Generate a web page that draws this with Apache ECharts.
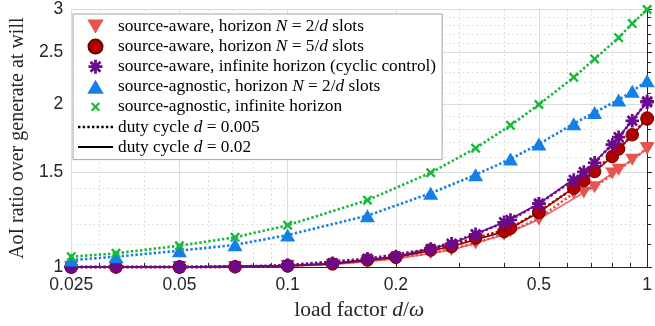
<!DOCTYPE html>
<html>
<head>
<meta charset="utf-8">
<script src="https://cdn.jsdelivr.net/npm/echarts@6/dist/echarts.min.js"></script>
<style>
  html, body { margin: 0; padding: 0; background: #fff; }
  #chart { width: 655px; height: 326px; }
</style>
</head>
<body>
<div id="chart"></div>
<script>
  // load factor d/omega, duty cycle d = 0.005 and d = 0.02
  const loadA = [0.025, 0.0333, 0.05, 0.0714, 0.1, 0.1667, 0.25, 0.3333, 0.4167, 0.5, 0.625, 0.7143, 0.8333, 0.9091, 1]
  const loadB = [0.025, 0.05, 0.1, 0.1333, 0.2, 0.2857, 0.4, 0.5, 0.6667, 0.8, 1]

  // AoI ratio, d = 0.005 (dotted)
  const awareN2A = [1.0, 1.0, 1.0, 1.0, 1.004, 1.025, 1.06, 1.106, 1.163, 1.231, 1.37, 1.406, 1.514, 1.58, 1.661]
  const awareN5A = [1.0, 1.0, 1.0, 1.001, 1.005, 1.03, 1.075, 1.131, 1.18, 1.267, 1.40, 1.503, 1.654, 1.758, 1.888]
  const awareInfA = [1.0, 1.0, 1.0, 1.002, 1.008, 1.036, 1.08, 1.15, 1.222, 1.31, 1.45, 1.56, 1.74, 1.866, 2.027]
  const agnN2A = [1.03, 1.045, 1.072, 1.099, 1.146, 1.245, 1.37, 1.482, 1.585, 1.69, 1.843, 1.934, 2.04, 2.116, 2.214]
  const agnInfA = [1.045, 1.06, 1.095, 1.135, 1.195, 1.33, 1.495, 1.66, 1.83, 2.0, 2.246, 2.43, 2.66, 2.825, 3.0]

  // AoI ratio, d = 0.02 (solid)
  const awareN2B = [1.0, 1.0, 1.004, 1.01, 1.035, 1.075, 1.147, 1.225, 1.374, 1.49, 1.655]
  const awareN5B = [1.0, 1.0, 1.005, 1.013, 1.042, 1.091, 1.163, 1.262, 1.446, 1.602, 1.88]
  const awareInfB = [1.0, 1.0, 1.006, 1.016, 1.046, 1.104, 1.21, 1.31, 1.50, 1.685, 2.02]

  const xTicks = [0.025, 0.05, 0.1, 0.2, 0.5, 1]
  const xMinor = [0.03, 0.04, 0.06, 0.07, 0.08, 0.09, 0.3, 0.4, 0.6, 0.7, 0.8, 0.9]
  const yTicks = [1, 1.5, 2, 2.5, 3]
  const yMinor = [1.1, 1.2, 1.3, 1.4, 1.6, 1.7, 1.8, 1.9, 2.1, 2.2, 2.3, 2.4, 2.6, 2.7, 2.8, 2.9]

  const names = [
    'source-aware, horizon N = 2/d slots',
    'source-aware, horizon N = 5/d slots',
    'source-aware, infinite horizon (cyclic control)',
    'source-agnostic, horizon N = 2/d slots',
    'source-agnostic, infinite horizon',
    'duty cycle d = 0.005',
    'duty cycle d = 0.02'
  ]
  const labels = [
    'source-aware, horizon {i|N} = 2/{i|d} slots',
    'source-aware, horizon {i|N} = 5/{i|d} slots',
    'source-aware, infinite horizon (cyclic control)',
    'source-agnostic, horizon {i|N} = 2/{i|d} slots',
    'source-agnostic, infinite horizon',
    'duty cycle {i|d} = 0.005',
    'duty cycle {i|d} = 0.02'
  ]

  const RED = '#e8524f', DARKRED = '#b00000', PURPLE = '#6a0a8c', BLUE = '#1480e6', GREEN = '#18b83a'

  const triDown = 'path://M0,0 L20,0 L10,17 Z'
  const triUp = 'path://M10,0 L20,17 L0,17 Z'
  const star = 'path://M0,8 L20,8 L20,12 L0,12 Z M8,0 L12,0 L12,20 L8,20 Z ' +
    'M4.34,1.52 L18.48,15.66 L15.66,18.48 L1.52,4.34 Z M1.52,15.66 L15.66,1.52 L18.48,4.34 L4.34,18.48 Z'
  const cross = 'path://M4.34,1.52 L18.48,15.66 L15.66,18.48 L1.52,4.34 Z M1.52,15.66 L15.66,1.52 L18.48,4.34 L4.34,18.48 Z'
  const crossSmall = 'path://M-3,-3 M23,23 M4.34,1.52 L18.48,15.66 L15.66,18.48 L1.52,4.34 Z M1.52,15.66 L15.66,1.52 L18.48,4.34 L4.34,18.48 Z'
  // legend samples for the two line styles
  let dotIcon = 'path://'
  for (let k = 0; k < 8; k++) {
    const x0 = k * 4.6
    dotIcon += 'M' + x0 + ',0 L' + (x0 + 2.4) + ',0 L' + (x0 + 2.4) + ',2.6 L' + x0 + ',2.6 Z '
  }
  const solidIcon = 'path://M0,0 L35,0 L35,2 L0,2 Z'

  const lg = Math.log10
  const toData = (xs, ys) => xs.map((x, i) => [lg(x), lg(ys[i])])
  const fmt = v => String(+Math.pow(10, v).toPrecision(3))
  const dotted = c => ({ color: c, width: 2.6, type: [2.4, 2.2] })
  const solid = c => ({ color: c, width: 1.6, type: 'solid' })

  function line (name, xs, ys, color, symbol, size, lineStyle, itemStyle) {
    return {
      name: name,
      type: 'line',
      data: toData(xs, ys),
      clip: false,
      symbol: symbol,
      symbolSize: size,
      showSymbol: true,
      lineStyle: lineStyle,
      itemStyle: Object.assign({ color: color }, itemStyle || {}),
      emphasis: { disabled: true },
      animation: false
    }
  }

  const series = [
    line(names[0], loadB, awareN2B, RED, triDown, [14, 12], solid('#e86a66')),
    line(names[0], loadA, awareN2A, RED, triDown, [14, 12], dotted(RED)),
    line(names[1], loadB, awareN5B, DARKRED, 'circle', 12.5, solid('#8c0000'), { borderColor: '#6e0000', borderWidth: 1 }),
    line(names[1], loadA, awareN5A, DARKRED, 'circle', 12.5, dotted(DARKRED), { borderColor: '#6e0000', borderWidth: 1 }),
    line(names[2], loadB, awareInfB, PURPLE, star, 13.5, solid(PURPLE)),
    line(names[2], loadA, awareInfA, PURPLE, star, 13.5, dotted(PURPLE)),
    line(names[3], loadA, agnN2A, BLUE, triUp, [15, 13], dotted(BLUE)),
    line(names[4], loadA, agnInfA, GREEN, cross, 10, dotted(GREEN)),
    { name: names[5], type: 'line', data: [], symbol: 'none', lineStyle: { color: '#000', width: 2.6, type: [2.4, 2.2] }, itemStyle: { color: '#000' } },
    { name: names[6], type: 'line', data: [], symbol: 'none', lineStyle: { color: '#000', width: 2, type: 'solid' }, itemStyle: { color: '#000' } }
  ]

  const tickFont = { fontFamily: 'Liberation Sans', fontSize: 17.5, color: '#262626' }
  const serif = 'Liberation Serif'
  const xMin = lg(xTicks[0]), xMax = lg(xTicks[xTicks.length - 1])
  const yMin = lg(yTicks[0]), yMax = lg(yTicks[yTicks.length - 1])

  const option = {
    animation: false,
    backgroundColor: '#fff',
    grid: { left: 65, right: 3, top: 9.5, bottom: 59 },
    legend: {
      orient: 'vertical',
      left: 73,
      top: 14,
      itemWidth: 35,
      itemHeight: 14,
      itemGap: 3.1,
      padding: [4, 6, 4, 5],
      borderColor: '#a6a6a6',
      borderWidth: 1,
      borderRadius: 0,
      backgroundColor: '#fff',
      selectedMode: false,
      data: [
        { name: names[0], icon: triDown },
        { name: names[1], icon: 'circle' },
        { name: names[2], icon: star },
        { name: names[3], icon: triUp },
        { name: names[4], icon: crossSmall },
        { name: names[5], icon: dotIcon },
        { name: names[6], icon: solidIcon }
      ],
      formatter: n => labels[names.indexOf(n)],
      textStyle: {
        fontFamily: serif, fontSize: 17.3, color: '#000',
        rich: { i: { fontFamily: serif, fontSize: 17.3, fontStyle: 'italic', color: '#000' } }
      }
    },
    xAxis: [
      {
        type: 'value', min: xMin, max: xMax, position: 'bottom',
        name: 'load factor {i|d}/{i|ω}', nameLocation: 'middle', nameGap: 28,
        nameTextStyle: {
          fontFamily: serif, fontSize: 21.5, color: '#262626',
          rich: { i: { fontFamily: serif, fontSize: 21.5, fontStyle: 'italic', color: '#262626' } }
        },
        axisLine: { show: true, lineStyle: { color: '#262626', width: 1 } },
        axisTick: { show: true, inside: true, length: 5, customValues: xTicks.map(lg), lineStyle: { color: '#262626' } },
        axisLabel: Object.assign({ customValues: xTicks.map(lg), formatter: fmt, margin: 9 }, tickFont),
        splitLine: { show: true, lineStyle: { color: '#dcdcdc', width: 1 } }
      },
      {
        type: 'value', min: xMin, max: xMax, position: 'bottom',
        axisLine: { show: false },
        axisTick: { show: true, inside: true, length: 4, customValues: xMinor.map(lg), lineStyle: { color: '#262626' } },
        axisLabel: { show: false },
        splitLine: { show: true, lineStyle: { color: '#d6d6d6', width: 1, type: [1.5, 3] } }
      }
    ],
    yAxis: [
      {
        type: 'value', min: yMin, max: yMax, position: 'left',
        name: 'AoI ratio over generate at will', nameLocation: 'middle', nameGap: 41,
        nameTextStyle: { fontFamily: serif, fontSize: 20, color: '#262626' },
        axisLine: { show: true, lineStyle: { color: '#262626', width: 1 } },
        axisTick: { show: true, inside: true, length: 5, customValues: yTicks.map(lg), lineStyle: { color: '#262626' } },
        axisLabel: Object.assign({ customValues: yTicks.map(lg), formatter: fmt, margin: 8 }, tickFont),
        splitLine: { show: true, lineStyle: { color: '#dcdcdc', width: 1 } }
      },
      {
        type: 'value', min: yMin, max: yMax, position: 'left',
        axisLine: { show: false },
        axisTick: { show: true, inside: true, length: 4, customValues: yMinor.map(lg), lineStyle: { color: '#262626' } },
        axisLabel: { show: false },
        splitLine: { show: true, lineStyle: { color: '#d6d6d6', width: 1, type: [1.5, 3] } }
      }
    ],
    series: series
  }

  const chart = echarts.init(document.getElementById('chart'), null, { renderer: 'canvas' })
  chart.setOption(option)
  window.addEventListener('resize', chart.resize)
</script>
</body>
</html>
